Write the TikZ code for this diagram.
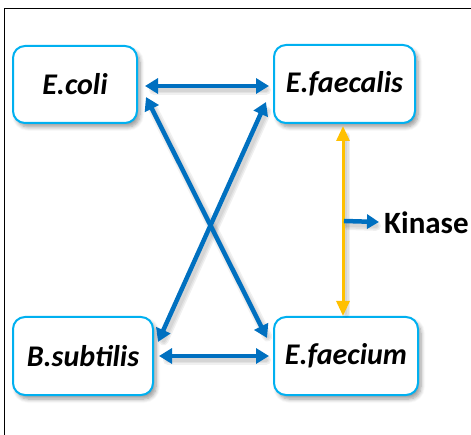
\documentclass[tikz,border=0pt]{standalone}
\usepackage{fontspec}
\setmainfont{Carlito}
\usetikzlibrary{arrows.meta,calc,shadows.blur}

\definecolor{boxline}{RGB}{0,176,240}
\definecolor{linkblue}{RGB}{0,112,192}
\definecolor{kinaseyellow}{RGB}{255,192,0}

\tikzset{
  species/.style={draw=boxline, line width=2pt, rounded corners=12pt, fill=white,
    font=\fontsize{30}{36}\selectfont\bfseries\itshape, inner sep=0pt,
    blur shadow={shadow xshift=3pt, shadow yshift=-4pt, shadow blur steps=6,
      shadow opacity=40, shadow blur radius=4pt}},
  % three stacked translucent strokes give a soft edge
  shadowline/.style={black, opacity=0.06, line width=#1, line cap=round,
    preaction={draw, black, opacity=0.06, line width=#1+3pt, line cap=round},
    postaction={draw, black, opacity=0.06, line width=#1-3pt, line cap=round}},
  shadowline/.default=7pt,
  link/.style={linkblue, line width=4.5pt,
    {Triangle[length=13pt,width=15pt]}-{Triangle[length=13pt,width=15pt]}},
  kinaselink/.style={kinaseyellow, line width=3pt,
    {Triangle[length=15pt,width=13pt]}-{Triangle[length=15pt,width=13pt]}},
  outlet/.style={linkblue, line width=4.5pt,
    -{Triangle[length=12pt,width=14pt]}},
}

\begin{document}
\begin{tikzpicture}[x=1pt,y=-1pt]
  \useasboundingbox (0,0) rectangle (471,435);
  \begin{scope}
    \clip (0,0) rectangle (471,435);
    \draw[black, line width=1.5pt] (4.5,8.5) rectangle (490,450);
  \end{scope}

  \node[species, minimum width=124pt, minimum height=77pt] (ecoli) at (75,84.5) {E.coli};
  \node[species, minimum width=141pt, minimum height=78pt] (faecalis) at (344.5,84) {E.faecalis};
  \node[species, minimum width=140pt, minimum height=78pt] (bsub) at (83,356) {B.subtilis};
  \node[species, minimum width=144pt, minimum height=78pt] (faecium) at (346,356) {E.faecium};
  \node[anchor=west, font=\fontsize{31}{37}\selectfont\bfseries, inner sep=0pt]
    (kinase) at (384,223) {Kinase};

  % end points of the links
  \coordinate (ec1) at ($(ecoli.east)+(7,1.5)$);
  \coordinate (fl1) at ($(faecalis.west)+(-4,2)$);
  \coordinate (bs1) at ($(bsub.east)+(5,0)$);
  \coordinate (fm1) at ($(faecium.west)+(-4,0)$);
  \coordinate (ec2) at ($(ecoli.east)+(8,12.5)$);
  \coordinate (fm2) at ($(faecium.west)+(-6,-18)$);
  \coordinate (fl2) at ($(faecalis.west)+(-7,18)$);
  \coordinate (bs2) at ($(bsub.east)+(4,-14)$);
  \coordinate (top) at ($(faecalis.south)+(-1.5,2)$);
  \coordinate (bot) at ($(faecium.north)+(-3,0)$);
  \coordinate (mid) at ($(top)!0.5!(bot)+(1,0)$);
  \coordinate (kin) at ($(kinase.west)+(-5,-1)$);

  % soft shadows under the links
  \begin{scope}[transform canvas={shift={(3pt,-4pt)}}]
    \draw[shadowline] ($(ec1)!6pt!(fl1)$) -- ($(fl1)!6pt!(ec1)$);
    \draw[shadowline] ($(bs1)!6pt!(fm1)$) -- ($(fm1)!6pt!(bs1)$);
    \draw[shadowline] ($(ec2)!6pt!(fm2)$) -- ($(fm2)!6pt!(ec2)$);
    \draw[shadowline] ($(fl2)!6pt!(bs2)$) -- ($(bs2)!6pt!(fl2)$);
    \draw[shadowline=5pt] ($(top)!6pt!(bot)$) -- ($(bot)!6pt!(top)$);
    \draw[shadowline] (mid) -- ($(kin)!6pt!(mid)$);
  \end{scope}

  % pairwise links
  \draw[link] (ec1) -- (fl1);
  \draw[link] (bs1) -- (fm1);
  \draw[link] (ec2) -- (fm2);
  \draw[link] (fl2) -- (bs2);

  % kinase axis between the two enterococci
  \draw[kinaselink] (top) -- (bot);
  \draw[outlet] (mid) -- (kin);
\end{tikzpicture}
\end{document}
